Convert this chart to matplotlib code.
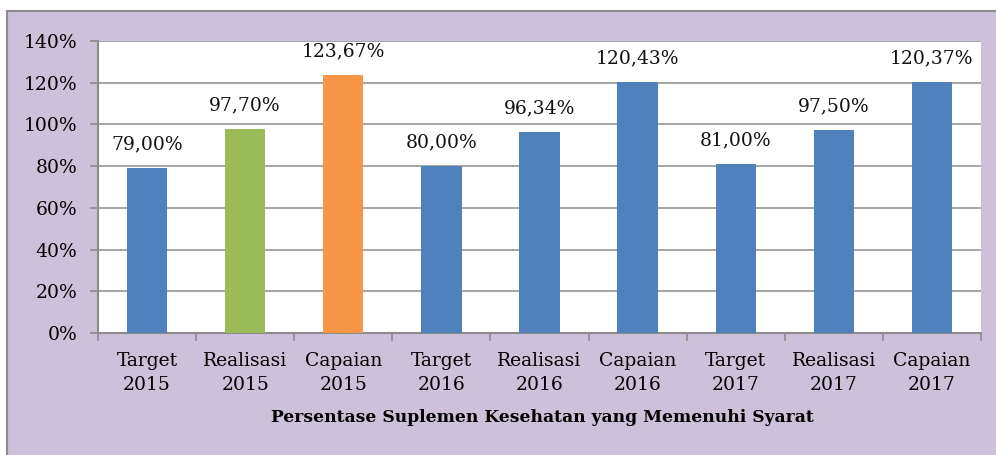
import matplotlib
matplotlib.use("Agg")
import matplotlib.pyplot as plt
from matplotlib.patches import Rectangle

categories = ["Target\n2015", "Realisasi\n2015", "Capaian\n2015",
              "Target\n2016", "Realisasi\n2016", "Capaian\n2016",
              "Target\n2017", "Realisasi\n2017", "Capaian\n2017"]
values = [79.00, 97.70, 123.67, 80.00, 96.34, 120.43, 81.00, 97.50, 120.37]
labels = ["79,00%", "97,70%", "123,67%", "80,00%", "96,34%", "120,43%",
          "81,00%", "97,50%", "120,37%"]
colors = ["#4F81BD", "#9BBB59", "#F79646", "#4F81BD", "#4F81BD", "#4F81BD",
          "#4F81BD", "#4F81BD", "#4F81BD"]
yticks = [0, 20, 40, 60, 80, 100, 120, 140]
xlabel = "Persentase Suplemen Kesehatan yang Memenuhi Syarat"

plt.rcParams['font.family'] = ['DejaVu Serif']

W, H = 996, 455
fig = plt.figure(figsize=(W / 100, H / 100), dpi=100)
fig.patch.set_facecolor("white")
# outer lavender frame
fig.patches.append(Rectangle((7 / W, -0.1), 1.2, 1.1 - 11 / H, transform=fig.transFigure,
                             facecolor="#CCC0DA", edgecolor="#8C8C8C", linewidth=1.5,
                             zorder=-10))

left, right, top, bottom = 98, 981, 41, 333
ax = fig.add_axes([left / W, 1 - bottom / H, (right - left) / W, (bottom - top) / H])
ax.set_zorder(5)
ax.set_facecolor("white")

x = list(range(len(values)))
ax.bar(x, values, width=0.41, color=colors, zorder=3)
for xi, v, lab in zip(x, values, labels):
    ax.annotate(lab, (xi, v), xytext=(0, 17), textcoords="offset points",
                ha="center", va="center", fontsize=13.5, color="#111111", zorder=4)

ax.set_xlim(-0.5, len(values) - 0.5)
ax.set_ylim(0, 140)
ax.set_yticks(yticks)
ax.set_yticklabels([f"{t}%" for t in yticks], fontsize=13.5)
ax.set_xticks([i + 0.5 for i in range(-1, len(values))])
ax.set_xticklabels([])
ax.set_xticks(x, minor=True)
ax.set_xticklabels(categories, minor=True, fontsize=13.5, linespacing=1.38)
ax.tick_params(axis="x", which="minor", length=0, pad=14)
ax.tick_params(axis="x", which="major", length=6, color="#8C8C8C", width=1.2)
ax.tick_params(axis="y", length=6, color="#8C8C8C", width=1.2, pad=9)
ax.grid(axis="y", color="#8C8C8C", linewidth=1.1, zorder=1)
for s in ["top", "right"]:
    ax.spines[s].set_visible(False)
for s in ["left", "bottom"]:
    ax.spines[s].set_color("#8C8C8C")
    ax.spines[s].set_linewidth(1.5)

fig.text(542 / W, 1 - 418 / H, xlabel, ha="center", va="center",
         fontsize=12.3, fontweight="bold", zorder=6)

fig.savefig("out.png", dpi=100)
